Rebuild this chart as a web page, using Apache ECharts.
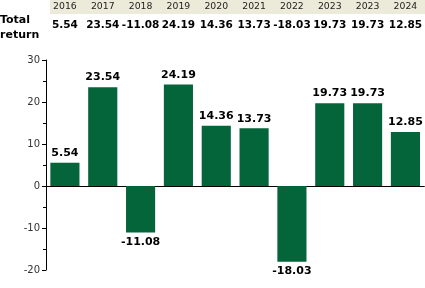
<!DOCTYPE html>
<html><head><meta charset="utf-8">
<script src="https://cdn.jsdelivr.net/npm/echarts@6/dist/echarts.min.js"></script>
<style>html,body{margin:0;padding:0;background:#fff}#c{width:425px;height:288px}</style>
</head><body><div id="c"></div>
<script>
var years = ['2016','2017','2018','2019','2020','2021','2022','2023','2023','2024'];
var returns = [5.54, 23.54, -11.08, 24.19, 14.36, 13.73, -18.03, 19.73, 19.73, 12.85];
var yTicks = {min: -20, max: 30, interval: 10};
var rowTitle = 'Total\nreturn';

var chart = echarts.init(document.getElementById('c'), null, {renderer: 'canvas'});
var FONT = 'DejaVu Sans';
chart.setOption({
  animation: false,
  grid: {left: 46, right: 0, top: 60, bottom: 18, containLabel: false},
  graphic: [
    {type: 'rect', left: 50, top: 0, shape: {width: 375, height: 14}, style: {fill: '#ecebd9'}, silent: true},
    {type: 'text', left: 0, top: 13, style: {text: rowTitle, font: 'bold 11px ' + FONT, fill: '#000', lineHeight: 15}}
  ],
  xAxis: [
    {type: 'category', data: years, position: 'bottom',
     axisLine: {onZero: true, lineStyle: {color: '#000', width: 1}},
     axisTick: {show: false}, axisLabel: {show: false}, splitLine: {show: false}},
    {type: 'category', data: years, position: 'top', gridIndex: 0, offset: 53.5,
     axisLine: {show: false}, axisTick: {show: false},
     axisLabel: {margin: 0, verticalAlign: 'middle', fontFamily: FONT, fontSize: 9.3, color: '#222', interval: 0}},
    {type: 'category', data: years, position: 'top', gridIndex: 0, offset: 35,
     axisLine: {show: false}, axisTick: {show: false},
     axisLabel: {margin: 0, verticalAlign: 'middle', fontFamily: FONT, fontSize: 10.5, fontWeight: 'bold', color: '#000', interval: 0,
       formatter: function (v, i) { return returns[i].toFixed(2); }}}
  ],
  yAxis: {
    type: 'value', min: yTicks.min, max: yTicks.max, interval: yTicks.interval,
    axisLine: {show: true, lineStyle: {color: '#000'}},
    axisTick: {show: true, length: 4, lineStyle: {color: '#000'}},
    minorTick: {show: true, splitNumber: 2, length: 3, lineStyle: {color: '#000'}},
    splitLine: {show: false},
    axisLabel: {fontFamily: FONT, fontSize: 10, color: '#333', margin: 6}
  },
  series: [{
    type: 'bar', xAxisIndex: 0, barCategoryGap: '23%',
    itemStyle: {color: '#05653a'},
    data: returns.map(function (v) {
      return {value: v, label: {position: v >= 0 ? 'top' : 'bottom'}};
    }),
    label: {show: true, distance: 4, fontFamily: FONT, fontSize: 11, fontWeight: 'bold', color: '#000',
      formatter: function (p) { return p.value.toFixed(2); }}
  }]
});
</script></body></html>
